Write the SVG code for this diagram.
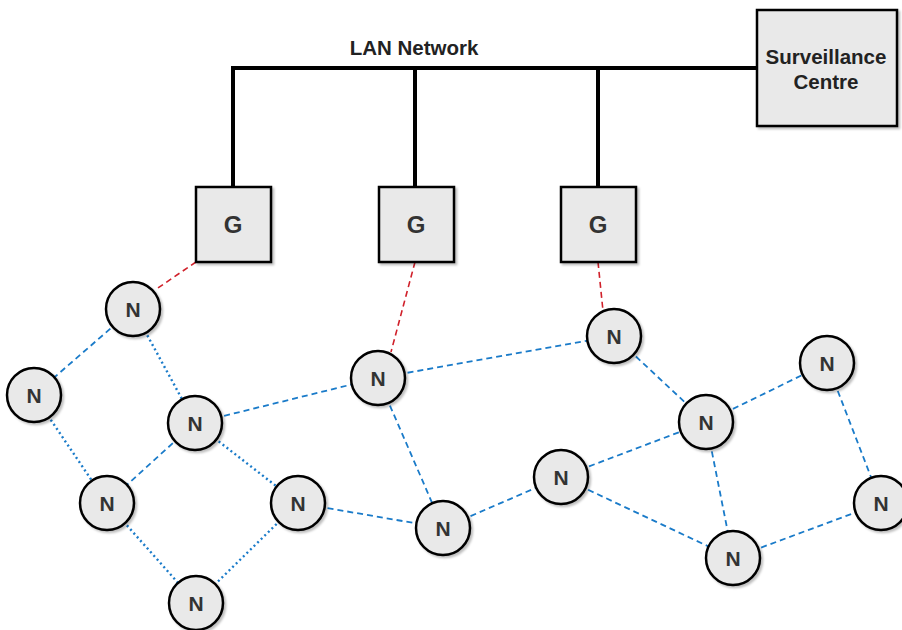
<svg xmlns="http://www.w3.org/2000/svg" width="902" height="630" viewBox="0 0 902 630">
<defs>
<filter id="sh" x="-20%" y="-20%" width="150%" height="150%">
<feDropShadow dx="2" dy="2" stdDeviation="1.2" flood-color="#000" flood-opacity="0.25"/>
</filter>
</defs>
<style>
.bus{stroke:#000;stroke-width:4;fill:none}
.red{stroke:#d0202a;stroke-width:1.6;stroke-dasharray:6 4;fill:none}
.dash{stroke:#1a7bc9;stroke-width:1.8;stroke-dasharray:6 4;fill:none}
.dot{stroke:#1a7bc9;stroke-width:2.4;stroke-dasharray:2 3;fill:none}
.box{fill:#e9e9e9;stroke:#000;stroke-width:2.5;filter:url(#sh)}
.node{fill:#e9e9e9;stroke:#000;stroke-width:2.5;filter:url(#sh)}
.t{font-family:"Liberation Sans",Arial,sans-serif;font-weight:bold;fill:#333;text-anchor:middle}
.g{font-size:24px}
.n{font-size:21px}
.lbl{font-size:20.5px;fill:#222}
</style>
<rect width="902" height="630" fill="#fff"/>
<g id="connectors">
<polyline class="bus" points="233,187 233,68 757,68"/>
<line class="bus" x1="415" y1="68" x2="415" y2="187"/>
<line class="bus" x1="598" y1="68" x2="598" y2="187"/>
<line class="red" x1="196" y1="262" x2="155" y2="290"/>
<line class="red" x1="415" y1="262" x2="391" y2="352"/>
<line class="red" x1="598" y1="262" x2="603" y2="311"/>
<line class="dash" x1="133" y1="309" x2="34" y2="395"/>
<line class="dot" x1="133" y1="309" x2="195" y2="423"/>
<line class="dot" x1="34" y1="395" x2="107" y2="503"/>
<line class="dash" x1="195" y1="423" x2="107" y2="503"/>
<line class="dot" x1="195" y1="423" x2="298" y2="503"/>
<line class="dot" x1="107" y1="503" x2="196" y2="603"/>
<line class="dot" x1="298" y1="503" x2="196" y2="603"/>
<line class="dash" x1="195" y1="423" x2="378" y2="378"/>
<line class="dash" x1="298" y1="503" x2="443" y2="528"/>
<line class="dash" x1="378" y1="378" x2="443" y2="528"/>
<line class="dash" x1="378" y1="378" x2="614" y2="336"/>
<line class="dash" x1="443" y1="528" x2="561" y2="477"/>
<line class="dash" x1="614" y1="336" x2="706" y2="422"/>
<line class="dash" x1="561" y1="477" x2="706" y2="422"/>
<line class="dash" x1="561" y1="477" x2="733" y2="558"/>
<line class="dash" x1="706" y1="422" x2="827" y2="363"/>
<line class="dash" x1="706" y1="422" x2="733" y2="558"/>
<line class="dash" x1="827" y1="363" x2="881" y2="503"/>
<line class="dash" x1="733" y1="558" x2="881" y2="503"/>
</g>
<text class="t lbl" x="414" y="55">LAN Network</text>
<g id="surveillance">
<rect class="box" x="757" y="10" width="140" height="116"/>
<text class="t lbl" x="826" y="64">Surveillance</text>
<text class="t lbl" x="826" y="89">Centre</text>
</g>
<g id="g1"><rect class="box" x="196" y="187" width="75" height="75"/><text class="t g" x="233" y="233">G</text></g>
<g id="g2"><rect class="box" x="379" y="187" width="75" height="75"/><text class="t g" x="416" y="233">G</text></g>
<g id="g3"><rect class="box" x="561" y="187" width="75" height="75"/><text class="t g" x="598" y="233">G</text></g>
<g id="n1"><circle class="node" cx="133" cy="309" r="27"/><text class="t n" x="133" y="317">N</text></g>
<g id="n2"><circle class="node" cx="34" cy="395" r="27"/><text class="t n" x="34" y="403">N</text></g>
<g id="n3"><circle class="node" cx="195" cy="423" r="27"/><text class="t n" x="195" y="431">N</text></g>
<g id="n4"><circle class="node" cx="107" cy="503" r="27"/><text class="t n" x="107" y="511">N</text></g>
<g id="n5"><circle class="node" cx="298" cy="503" r="27"/><text class="t n" x="298" y="511">N</text></g>
<g id="n6"><circle class="node" cx="196" cy="603" r="27"/><text class="t n" x="196" y="611">N</text></g>
<g id="n7"><circle class="node" cx="378" cy="378" r="27"/><text class="t n" x="378" y="386">N</text></g>
<g id="n8"><circle class="node" cx="443" cy="528" r="27"/><text class="t n" x="443" y="536">N</text></g>
<g id="n9"><circle class="node" cx="614" cy="336" r="27"/><text class="t n" x="614" y="344">N</text></g>
<g id="n10"><circle class="node" cx="561" cy="477" r="27"/><text class="t n" x="561" y="485">N</text></g>
<g id="n11"><circle class="node" cx="706" cy="422" r="27"/><text class="t n" x="706" y="430">N</text></g>
<g id="n12"><circle class="node" cx="827" cy="363" r="27"/><text class="t n" x="827" y="371">N</text></g>
<g id="n13"><circle class="node" cx="733" cy="558" r="27"/><text class="t n" x="733" y="566">N</text></g>
<g id="n14"><circle class="node" cx="881" cy="503" r="27"/><text class="t n" x="881" y="511">N</text></g>
</svg>
